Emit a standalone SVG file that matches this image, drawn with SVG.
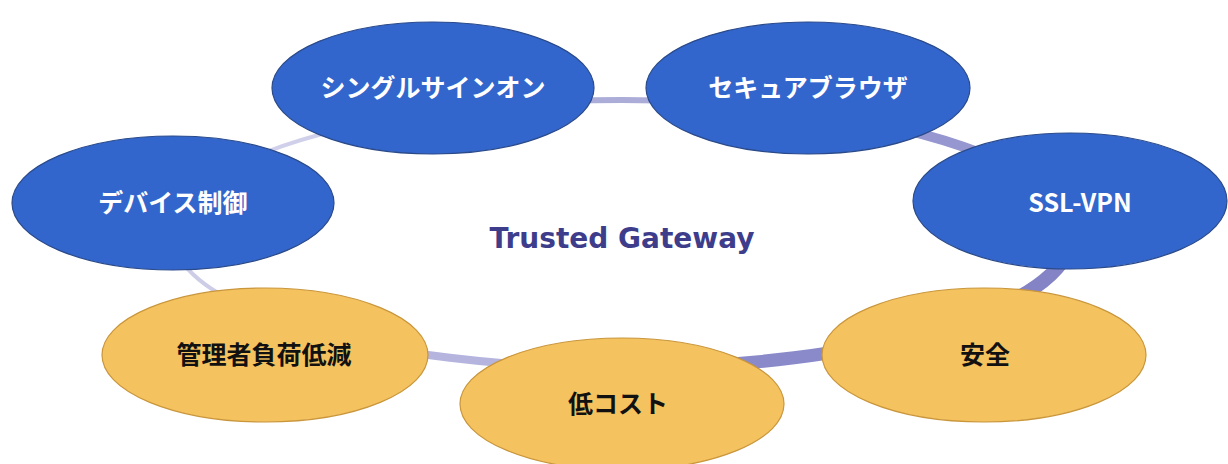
<svg xmlns="http://www.w3.org/2000/svg" width="1228" height="464" viewBox="0 0 1228 464">
  <style>
    .ring { fill: none; stroke-linecap: butt; }
    .blue { fill: #3366cc; stroke: #2a4a8a; stroke-width: 1.2; }
    .orange { fill: #f4c25f; stroke: #c9963c; stroke-width: 1.2; }
    .lw { fill: #ffffff; font-family: "Noto Sans CJK JP", "Noto Sans", sans-serif; font-weight: 700; font-size: 25px; text-anchor: middle; }
    .lb { fill: #111111; font-family: "Noto Sans CJK JP", "Noto Sans", sans-serif; font-weight: 700; font-size: 25px; text-anchor: middle; }
    .title { fill: #3d3d8c; font-family: "DejaVu Sans", "Noto Sans", sans-serif; font-weight: 700; font-size: 28px; text-anchor: middle; }
  </style>
  <rect width="1228" height="464" fill="#ffffff"/>
  <g id="connectors">
    <path class="ring" d="M179,210.7 A450,134 0 0 1 432,112.6" stroke="#d0d0ea" stroke-width="4"/>
    <path class="ring" d="M432,112.6 A450,134 0 0 1 812,112.6" stroke="#acacd8" stroke-width="6"/>
    <path class="ring" d="M812,112.6 A450,134 0 0 1 1065,210.7" stroke="#9696d0" stroke-width="10"/>
    <path class="ring" d="M1065,210.7 A450,134 0 0 1 940,328.8" stroke="#8383c6" stroke-width="14"/>
    <path class="ring" d="M940,328.8 A450,134 0 0 1 622,368" stroke="#8a8acb" stroke-width="13"/>
    <path class="ring" d="M622,368 A450,134 0 0 1 304,328.8" stroke="#b4b4de" stroke-width="8"/>
    <path class="ring" d="M304,328.8 A450,134 0 0 1 179,210.7" stroke="#cdcde8" stroke-width="4"/>
  </g>
  <g id="title">
    <text class="title" x="622" y="248">Trusted Gateway</text>
  </g>
  <g id="node-sso">
    <ellipse class="blue" cx="433" cy="88" rx="161" ry="66"/>
    <text class="lw" x="433" y="97">シングルサインオン</text>
  </g>
  <g id="node-browser">
    <ellipse class="blue" cx="808" cy="88" rx="162" ry="66"/>
    <text class="lw" x="808" y="97">セキュアブラウザ</text>
  </g>
  <g id="node-device">
    <ellipse class="blue" cx="173" cy="203" rx="161" ry="67"/>
    <text class="lw" x="173" y="212">デバイス制御</text>
  </g>
  <g id="node-sslvpn">
    <ellipse class="blue" cx="1070" cy="201" rx="157" ry="68"/>
    <text class="lw" x="1080" y="212">SSL-VPN</text>
  </g>
  <g id="node-admin">
    <ellipse class="orange" cx="265" cy="355" rx="163" ry="67"/>
    <text class="lb" x="264" y="364">管理者負荷低減</text>
  </g>
  <g id="node-cost">
    <ellipse class="orange" cx="622" cy="404" rx="162" ry="66"/>
    <text class="lb" x="618" y="413">低コスト</text>
  </g>
  <g id="node-safe">
    <ellipse class="orange" cx="984" cy="355" rx="162" ry="67"/>
    <text class="lb" x="985" y="364">安全</text>
  </g>
</svg>
